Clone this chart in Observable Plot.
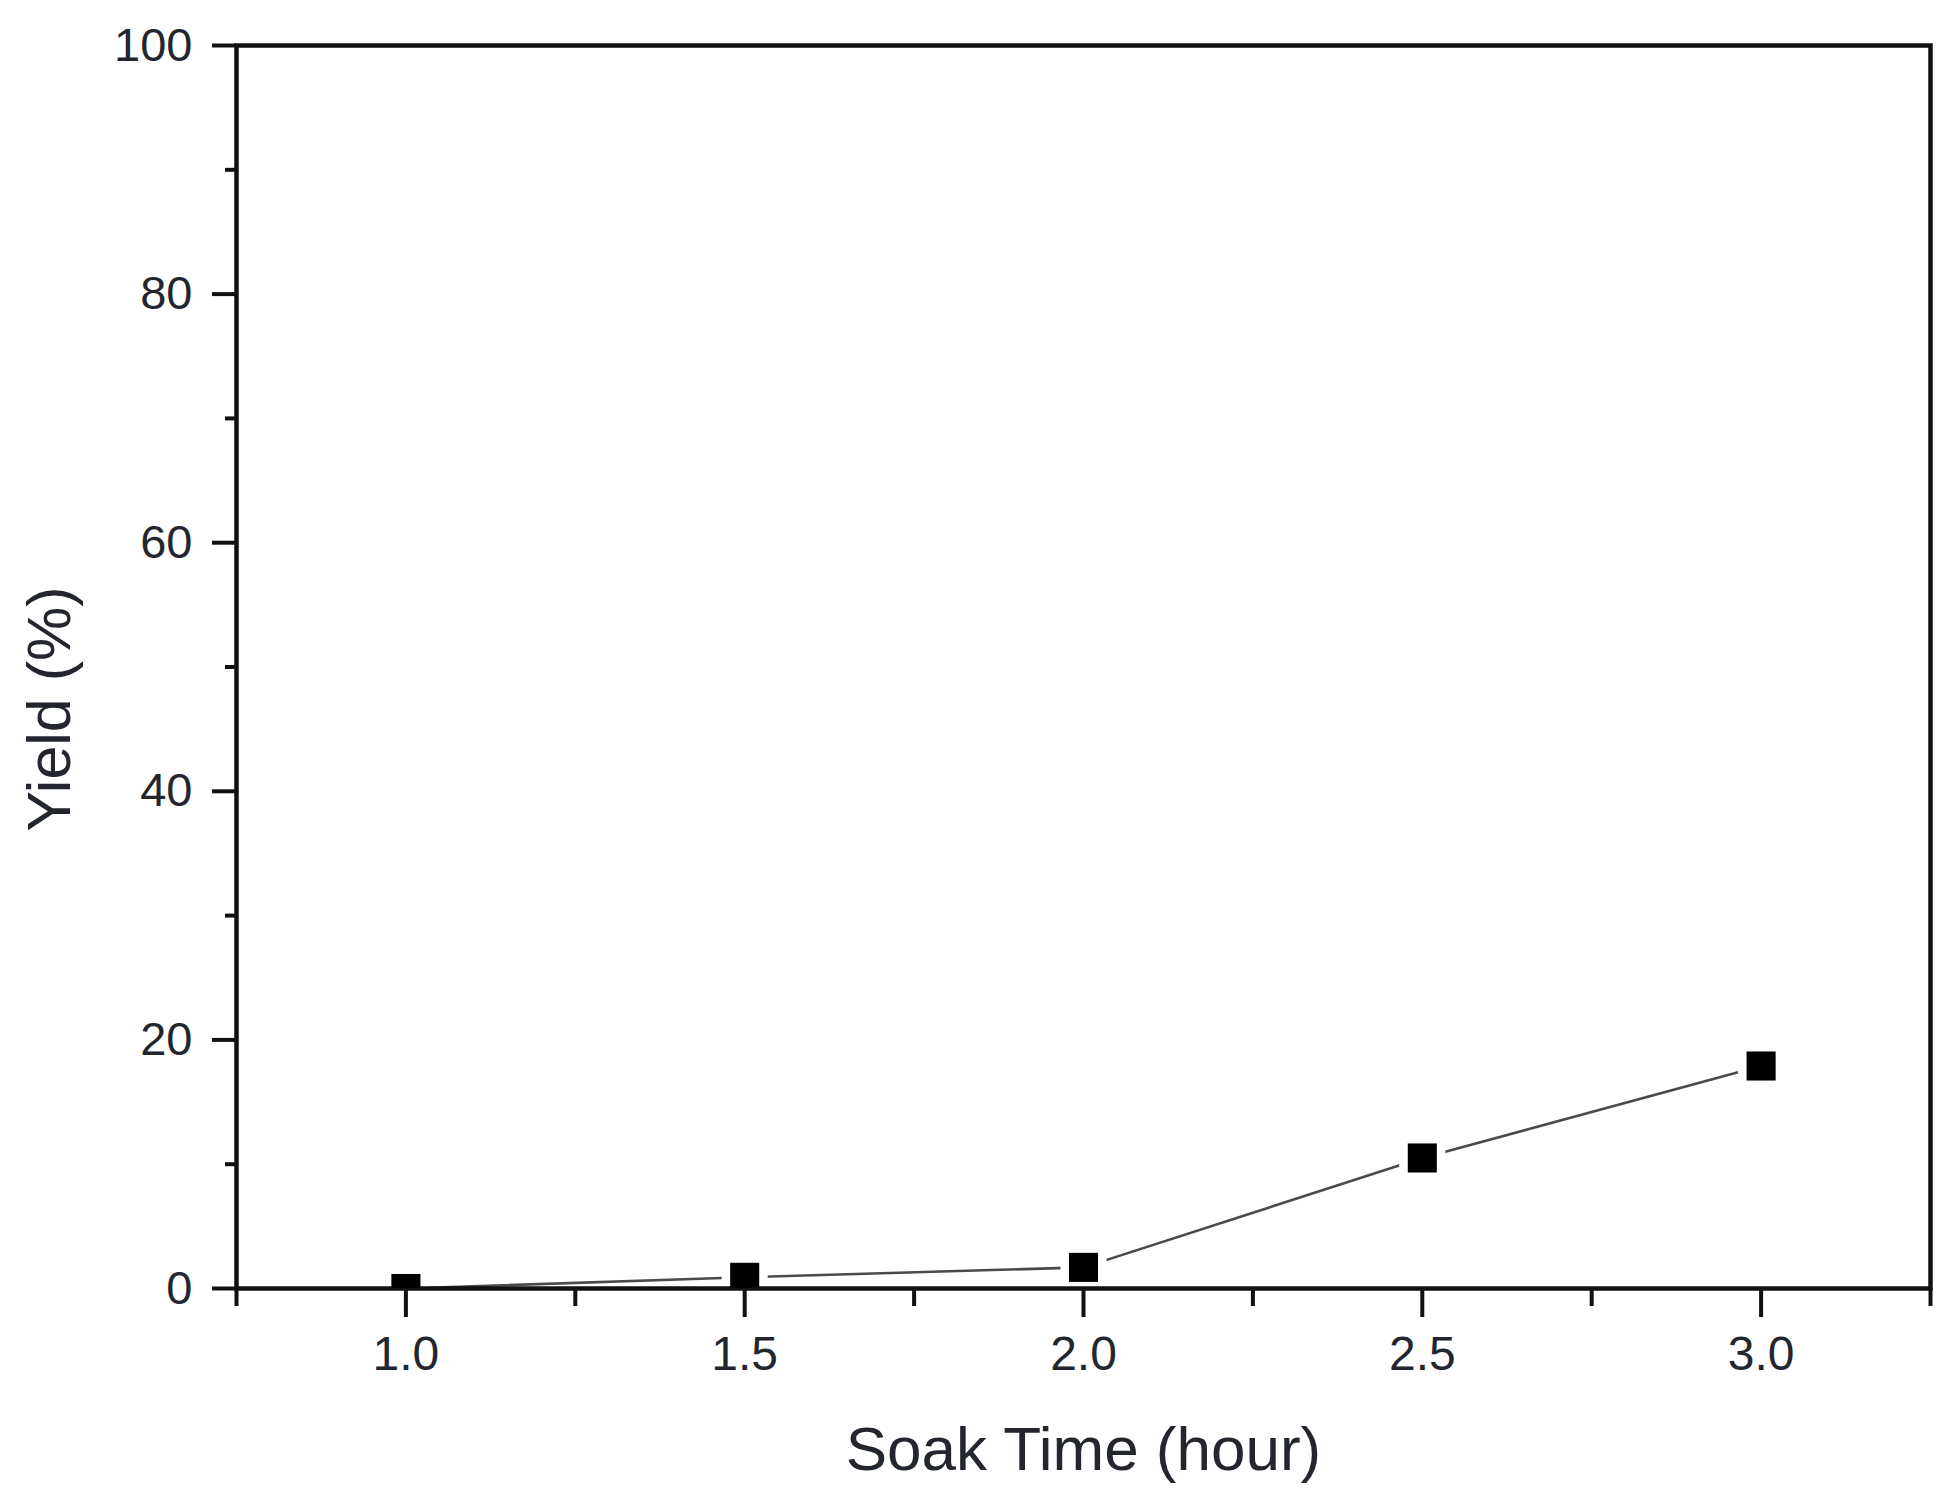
<!DOCTYPE html>
<html>
<head>
<meta charset="utf-8">
<script src="https://cdn.jsdelivr.net/npm/d3@7"></script>
<script src="https://cdn.jsdelivr.net/npm/@observablehq/plot@0.6"></script>
<style>
  html, body { margin: 0; padding: 0; background: #fff; }
  #chart svg { display: block; }
</style>
</head>
<body>
<div id="chart"></div>
<script>
// Data
const soakTime = [1.0, 1.5, 2.0, 2.5, 3.0];
const yieldPct = [0, 0.9, 1.7, 10.5, 17.9];

// Tick values
const xMajorTicks = [1.0, 1.5, 2.0, 2.5, 3.0];
const xMinorTicks = [0.75, 1.25, 1.75, 2.25, 2.75, 3.25];
const yMajorTicks = [0, 20, 40, 60, 80, 100];
const yMinorTicks = [10, 30, 50, 70, 90];

const xLabel = "Soak Time (hour)";
const yLabel = "Yield (%)";

const data = soakTime.map((t, i) => ({t, y: yieldPct[i]}));

const textColor = "#23262e";
const font = "'Liberation Sans', Arial, Helvetica, sans-serif";

const chart = Plot.plot({
  width: 1949,
  height: 1499,
  marginLeft: 236,
  marginRight: 19,
  marginTop: 45,
  marginBottom: 211,
  style: {fontFamily: font, background: "#fff", color: "#000", overflow: "visible"},
  x: {domain: [0.75, 3.25]},
  y: {domain: [0, 100]},
  marks: [
    Plot.line(data, {x: "t", y: "y", stroke: "#4a4a4a", strokeWidth: 2.6}),
    // white halo so the line stops short of each marker
    Plot.dot(data, {x: "t", y: "y", symbol: "square", r: 26, fill: "#fff", stroke: "none", clip: true}),
    Plot.frame({stroke: "#111", strokeWidth: 4.5}),
    Plot.axisX({ticks: xMinorTicks, tickSize: 18, strokeWidth: 4, stroke: "#111", text: null, label: null}),
    Plot.axisX({ticks: xMajorTicks, tickSize: 29, tickPadding: 18, strokeWidth: 4, stroke: "#111",
      tickFormat: d3.format(".1f"), fontSize: 48, fill: textColor, label: null}),
    Plot.axisY({ticks: yMinorTicks, tickSize: 11, strokeWidth: 4, stroke: "#111", text: null, label: null}),
    Plot.axisY({ticks: yMajorTicks, tickSize: 24, tickPadding: 20, strokeWidth: 4, stroke: "#111",
      tickFormat: d3.format("d"), fontSize: 47, fill: textColor, label: null}),
    Plot.dot(data, {x: "t", y: "y", symbol: "square", r: 16.4, fill: "#000", stroke: "none", clip: true}),
    Plot.text([xLabel], {frameAnchor: "bottom", textAnchor: "middle", lineAnchor: "middle", dy: 162, fontSize: 62, fill: textColor, text: d => d}),
    Plot.text([yLabel], {frameAnchor: "left", textAnchor: "middle", lineAnchor: "middle", dx: -186, dy: 42, rotate: -90, fontSize: 61, fill: textColor, text: d => d})
  ]
});

document.getElementById("chart").appendChild(chart);
</script>
</body>
</html>
